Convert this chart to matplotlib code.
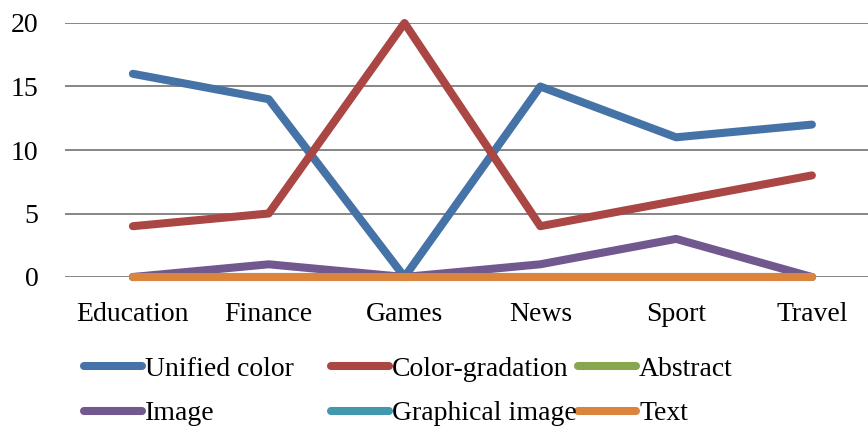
import matplotlib
matplotlib.use("Agg")
import matplotlib.pyplot as plt
from matplotlib.lines import Line2D

categories = ["Education", "Finance", "Games", "News", "Sport", "Travel"]
series_names = ["Unified color", "Color-gradation", "Abstract",
                "Image", "Graphical image", "Text"]
unified_color = [16, 14, 0, 15, 11, 12]
color_gradation = [4, 5, 20, 4, 6, 8]
abstract = [0, 0, 0, 0, 0, 0]
image = [0, 1, 0, 1, 3, 0]
graphical_image = [0, 0, 0, 0, 0, 0]
text = [0, 0, 0, 0, 0, 0]
y_ticks = [0, 5, 10, 15, 20]

series_values = [unified_color, color_gradation, abstract,
                 image, graphical_image, text]
colors = ["#4572A7", "#AA4643", "#89A54E", "#71588F", "#4198AF", "#DB843D"]

plt.rcParams["font.family"] = ["Liberation Serif", "DejaVu Serif"]
FS = 20

W, H = 868, 428
fig = plt.figure(figsize=(W / 100, H / 100), dpi=100)
ax_left, ax_right = 65, 868
ax_top, ax_bottom = 23, 277
ax = fig.add_axes([ax_left / W, 1 - ax_bottom / H,
                   (ax_right - ax_left) / W, (ax_bottom - ax_top) / H])

band = 135.8
x = list(range(len(categories)))
ax.set_xlim(-0.5, -0.5 + (ax_right - ax_left) / band)
ax.set_ylim(0, 20)

for v in y_ticks:
    ax.axhline(v, color="#868686", lw=1.4, zorder=1)

lw = 5.8
for vals, c in zip(series_values, colors):
    ax.plot(x, vals, color=c, lw=lw, solid_capstyle="round",
            solid_joinstyle="round", zorder=3, clip_on=False)

for s in ax.spines.values():
    s.set_visible(False)
ax.set_xticks(x)
ax.set_xticklabels(categories, fontsize=FS)
ax.set_yticks(y_ticks)
ax.set_yticklabels([str(v) for v in y_ticks], fontsize=FS)
ax.tick_params(axis="both", length=0)
ax.tick_params(axis="x", pad=18)
ax.tick_params(axis="y", pad=19)

# legend: three equal columns, two rows
col_x = [84, 331, 578]
row_y = [366, 411]
handle_len = 58
for i, (name, c) in enumerate(zip(series_names, colors)):
    r, k = divmod(i, 3)
    x0 = col_x[k]
    y0 = row_y[r]
    fig.add_artist(Line2D([x0 / W, (x0 + handle_len) / W],
                          [1 - y0 / H, 1 - y0 / H], color=c, lw=lw,
                          solid_capstyle="round"))
    fig.text((x0 + handle_len + 3) / W, 1 - y0 / H, name, fontsize=FS,
             va="center_baseline", ha="left")

fig.savefig("out.png", dpi=100)
